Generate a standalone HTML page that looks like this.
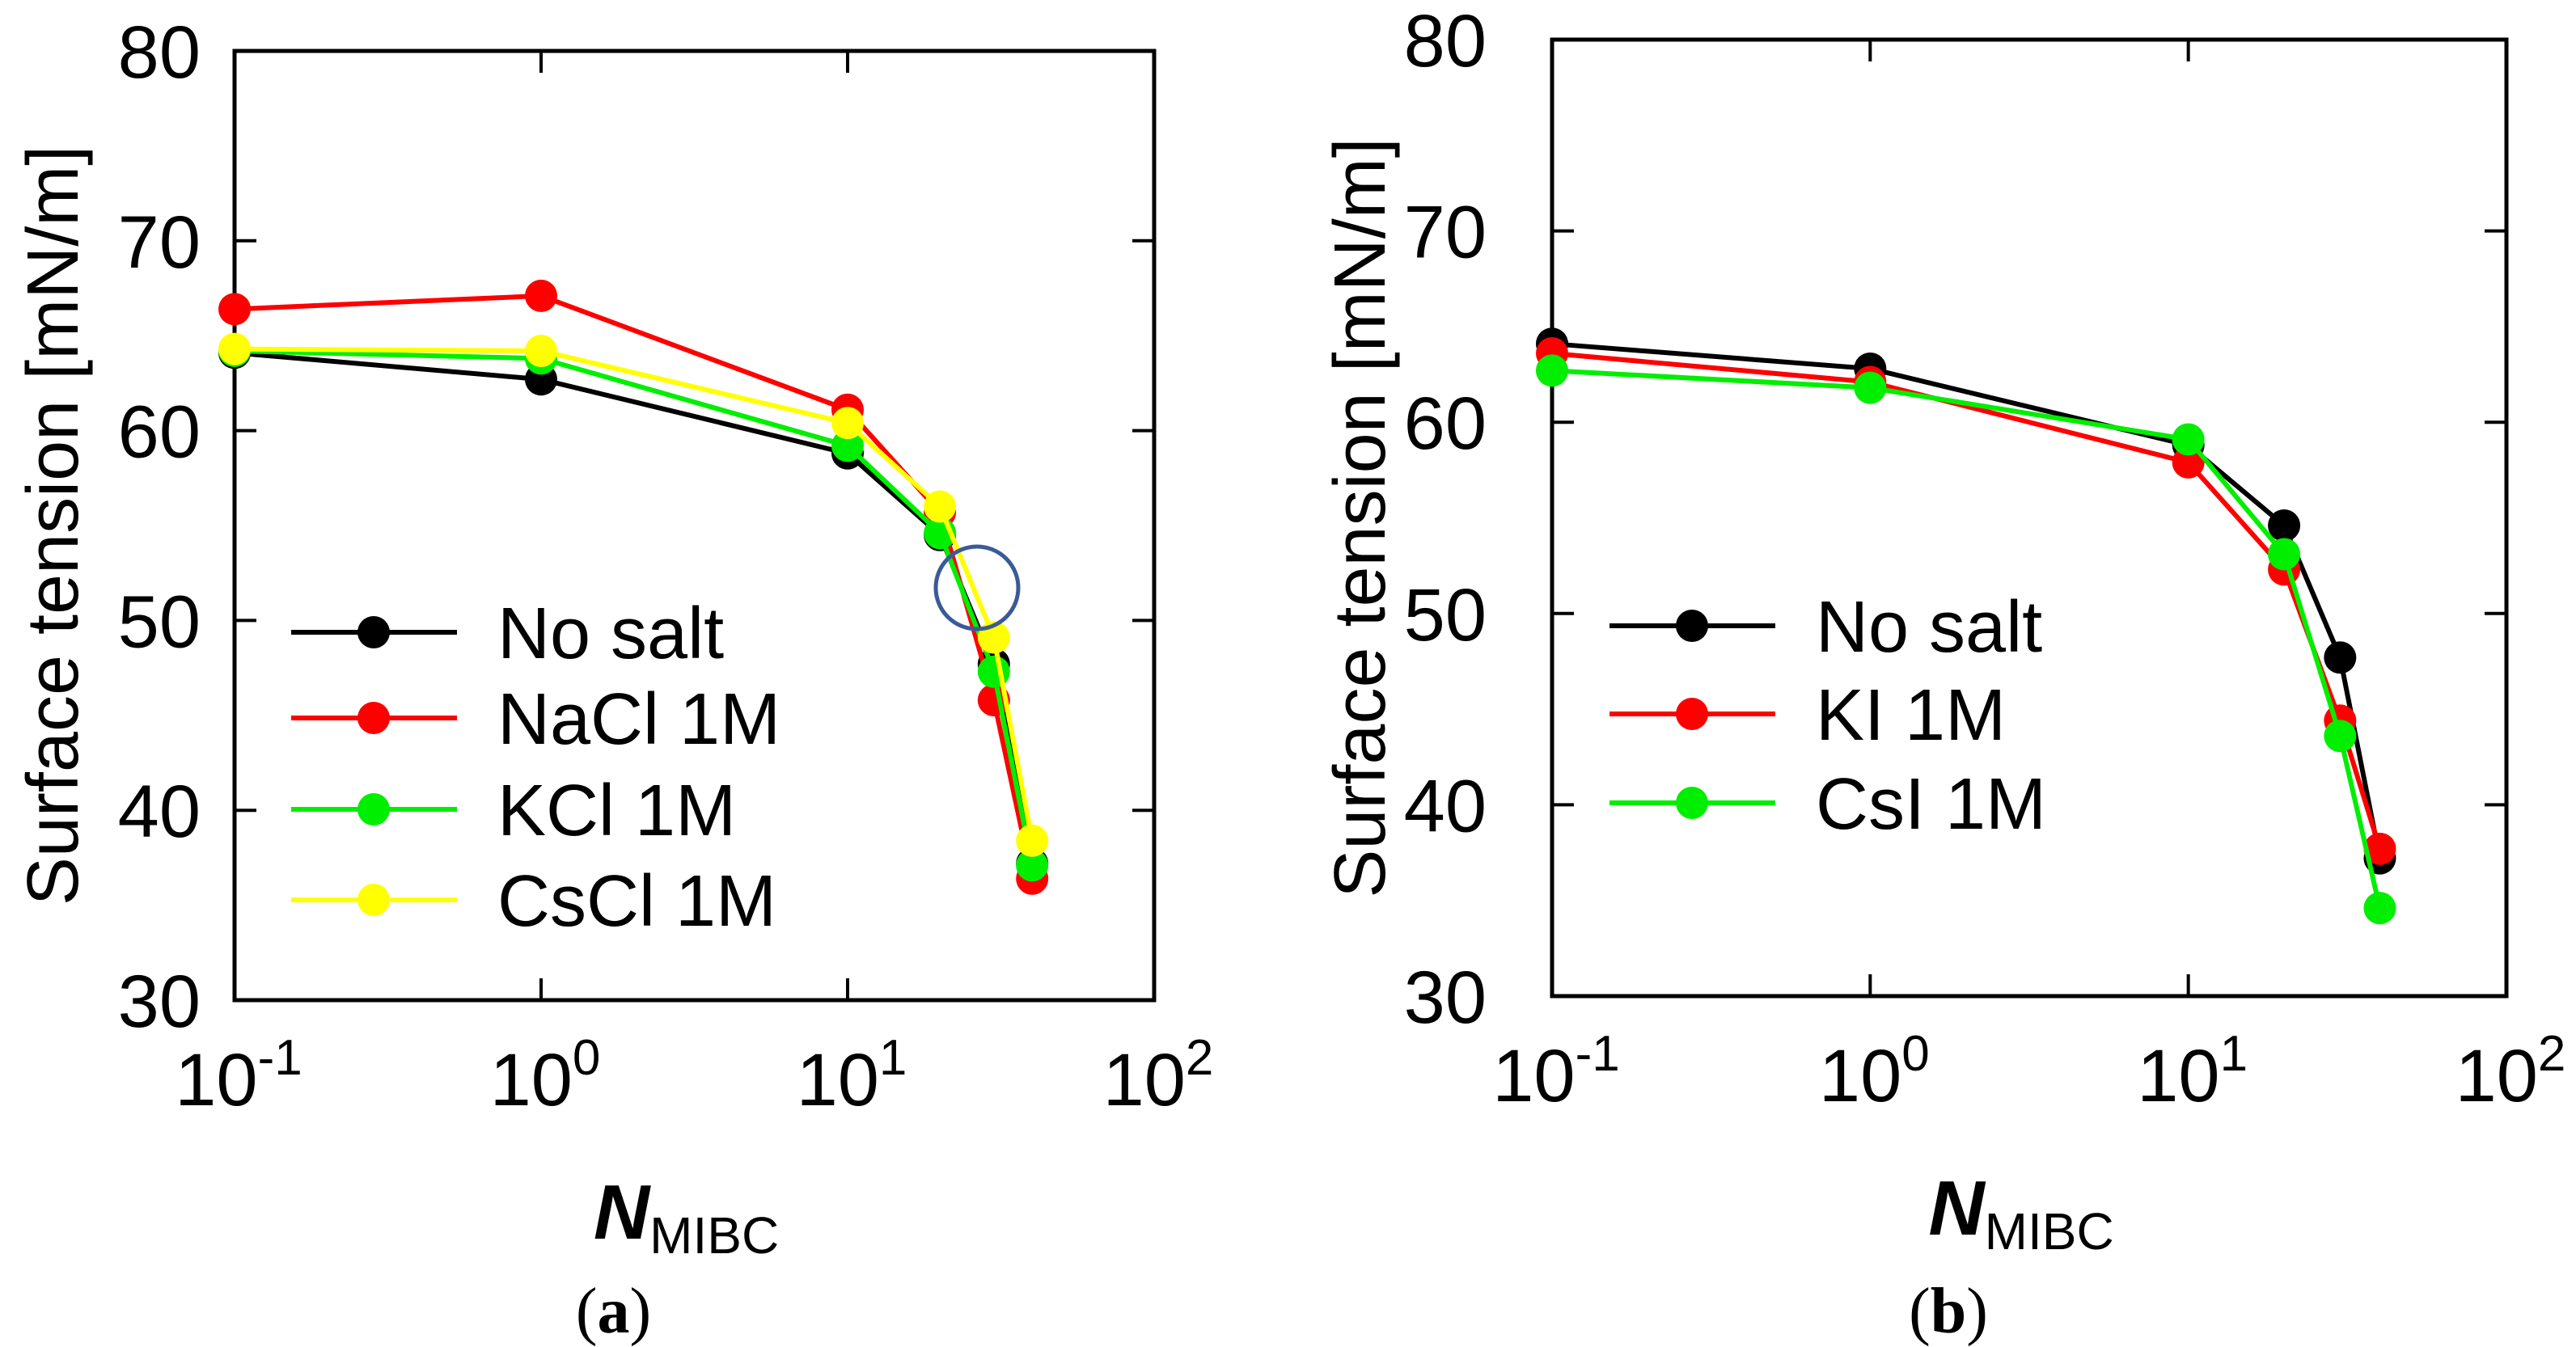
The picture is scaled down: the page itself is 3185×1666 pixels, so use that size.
<!DOCTYPE html>
<html><head><meta charset="utf-8"><style>
html,body{margin:0;padding:0;background:#fff;}
svg{display:block;}
text{font-family:"Liberation Sans",sans-serif;fill:#000;}
</style></head><body>
<svg id="fig" width="3185" height="1666" viewBox="0 0 3185 1666" xmlns="http://www.w3.org/2000/svg"></svg>
<script>
const xValues = [0.1, 1, 10, 20, 30, 40];
const xTicks = [-1, 0, 1, 2];
const yTicks = [30, 40, 50, 60, 70, 80];
const seriesNamesA = ["No salt", "NaCl 1M", "KCl 1M", "CsCl 1M"];
const noSaltA = [64.1, 62.7, 58.8, 54.5, 47.7, 37.2];
const naclA = [66.4, 67.1, 61.1, 55.7, 45.8, 36.4];
const kclA = [64.2, 63.8, 59.2, 54.6, 47.3, 37.1];
const csclA = [64.3, 64.2, 60.4, 56.0, 49.1, 38.4];
const seriesNamesB = ["No salt", "KI 1M", "CsI 1M"];
const noSaltB = [64.1, 62.8, 58.8, 54.6, 47.7, 37.2];
const kiB = [63.6, 62.1, 57.9, 52.3, 44.4, 37.7];
const csiB = [62.7, 61.8, 59.1, 53.1, 43.6, 34.6];

const NS = "http://www.w3.org/2000/svg";
const svg = document.getElementById("fig");
function mk(tag, attrs, parent) {
  const e = document.createElementNS(NS, tag);
  for (const k in attrs) e.setAttribute(k, attrs[k]);
  (parent || svg).appendChild(e);
  return e;
}

function panel(cfg) {
  const g = mk("g", {});
  
  
  const L = cfg.L, R = cfg.R, T = cfg.T, B = cfg.B;
  const xs = v => L + (Math.log10(v) + 1) / 3 * (R - L);
  const ys = v => B - (v - 30) / 50 * (B - T);
  yTicks.forEach(t => {
    const y = ys(t);
    if (t > 30 && t < 80) {
      const a = mk("line", {x1: L, x2: L + 27, y1: y, y2: y, stroke: "#000", "stroke-width": 4}, g);
      
      
      const b = mk("line", {x1: R, x2: R - 27, y1: y, y2: y, stroke: "#000", "stroke-width": 4}, g);
      
      
    }
    const tx = mk("text", {x: cfg.ylabX, y: y + 33, "text-anchor": "end", "font-size": 92}, g);
    tx.textContent = t;
    
    
  });
  xTicks.forEach(p => {
    const x = xs(Math.pow(10, p));
    if (p > -1 && p < 2) {
      const a = mk("line", {x1: x, x2: x, y1: B, y2: B - 27, stroke: "#000", "stroke-width": 4}, g);
      
      
      const b = mk("line", {x1: x, x2: x, y1: T, y2: T + 27, stroke: "#000", "stroke-width": 4}, g);
      
      
    }
    const tx = mk("text", {x: x + 5, y: B + 130, "text-anchor": "middle", "font-size": 92}, g);
    
    
    const t1 = mk("tspan", {}, tx); t1.textContent = "10";
    const t2 = mk("tspan", {dy: -38, "font-size": 62}, tx); t2.textContent = String(p);
  });
  const frame = mk("rect", {x: L, y: T, width: R - L, height: B - T, fill: "none", stroke: "#000", "stroke-width": 5}, g);
  
  
  cfg.series.forEach((s, i) => {
    const sg = mk("g", {}, g);
    
    
    const pts = s.vals.map((v, j) => xs(xValues[j]) + "," + ys(v)).join(" ");
    const pl = mk("polyline", {points: pts, fill: "none", stroke: s.color, "stroke-width": 6, "stroke-linejoin": "round"}, sg);
    
    
    s.vals.forEach((v, j) => {
      const c = mk("circle", {cx: xs(xValues[j]), cy: ys(v), r: 20, fill: s.color}, sg);
      
      
    });
  });
  if (cfg.circle) {
    const c = mk("circle", {cx: cfg.circle[0], cy: cfg.circle[1], r: 51, fill: "none", stroke: "#3a5a98", "stroke-width": 5}, g);
    
    
  }
  const lg = mk("g", {}, g);
  
  
  cfg.series.forEach((s, i) => {
    const y = cfg.legY[i];
    const e = mk("g", {}, lg);
    
    
    mk("line", {x1: cfg.legX, x2: cfg.legX + 205, y1: y, y2: y, stroke: s.color, "stroke-width": 6}, e);
    mk("circle", {cx: cfg.legX + 102, cy: y, r: 20, fill: s.color}, e);
    const t = mk("text", {x: cfg.legX + 255, y: y + 32, "font-size": 90}, e);
    t.textContent = s.label;
  });
  const yt = mk("text", {x: 0, y: 0, "text-anchor": "middle", "font-size": 90, transform: `translate(${cfg.ytX},${(T + B) / 2}) rotate(-90)`}, g);
  yt.textContent = "Surface tension [mN/m]";
  
  
  const xt = mk("text", {x: (L + R) / 2 - 10, y: B + 295, "text-anchor": "middle", "font-size": 96}, g);
  
  
  const a1 = mk("tspan", {"font-weight": "bold", "font-style": "italic"}, xt); a1.textContent = "N";
  const a2 = mk("tspan", {"font-size": 64, dy: 18}, xt); a2.textContent = "MIBC";
  const cap = mk("text", {x: (L + R) / 2 - 100, y: 1648, "text-anchor": "middle", "font-size": 80, style: "font-family:'Liberation Serif',serif"}, g);
  
  
  const c1 = mk("tspan", {}, cap); c1.textContent = "(";
  const c2 = mk("tspan", {"font-weight": "bold"}, cap); c2.textContent = cfg.caption;
  const c3 = mk("tspan", {}, cap); c3.textContent = ")";
}

panel({name: "panel-a", L: 290, R: 1427, T: 63, B: 1237, ylabX: 248, ytX: 96,
  legX: 360, legY: [782, 888, 1001, 1113], caption: "a", circle: [1208, 727],
  series: [
    {id: "no-salt", label: seriesNamesA[0], color: "#000000", vals: noSaltA},
    {id: "nacl", label: seriesNamesA[1], color: "#ff0000", vals: naclA},
    {id: "kcl", label: seriesNamesA[2], color: "#00ee00", vals: kclA},
    {id: "cscl", label: seriesNamesA[3], color: "#ffff00", vals: csclA}
  ]});
panel({name: "panel-b", L: 1919, R: 3099, T: 49, B: 1232, ylabX: 1838, ytX: 1712,
  legX: 1990, legY: [774, 883, 993], caption: "b",
  series: [
    {id: "no-salt", label: seriesNamesB[0], color: "#000000", vals: noSaltB},
    {id: "ki", label: seriesNamesB[1], color: "#ff0000", vals: kiB},
    {id: "csi", label: seriesNamesB[2], color: "#00ee00", vals: csiB}
  ]});
</script>
</body></html>
